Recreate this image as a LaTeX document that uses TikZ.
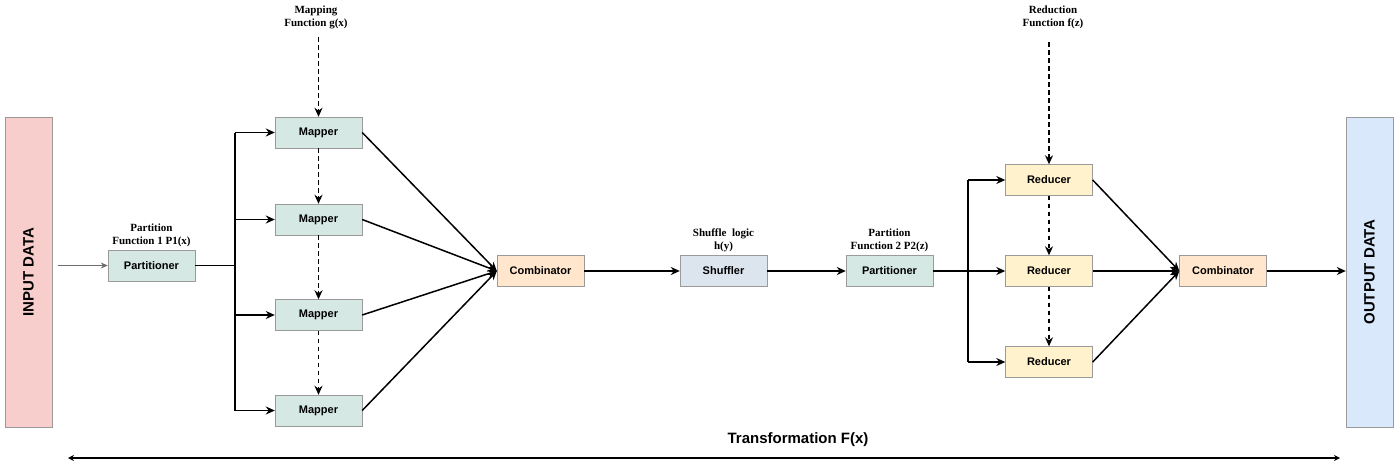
\documentclass[tikz,border=0pt]{standalone}
\usepackage{fontspec}
\setmainfont{Liberation Sans}
\newfontfamily\fnfont{Liberation Serif}
\usetikzlibrary{arrows.meta}

\definecolor{inpink}{HTML}{F8CECC}
\definecolor{outblue}{HTML}{DAE8FC}
\definecolor{tealbox}{HTML}{D5E8E4}
\definecolor{peachbox}{HTML}{FFE6CC}
\definecolor{yellowbox}{HTML}{FFF2CC}
\definecolor{shufbox}{HTML}{DCE4EE}
\definecolor{edgegray}{HTML}{9A9A9A}

\tikzset{
  box/.style={draw=edgegray, minimum width=87pt, minimum height=31pt, inner sep=0pt,
    font=\bfseries\fontsize{11}{13}\selectfont},
  databar/.style={draw=edgegray, minimum width=47pt, minimum height=310pt, inner sep=0pt},
  barlabel/.style={rotate=90, font=\bfseries\fontsize{15}{17}\selectfont},
  fnlabel/.style={align=center, font=\fnfont\bfseries\fontsize{11}{13}\selectfont},
  flow/.style={draw, line width=1.5pt, -{Stealth[length=9pt,width=8pt]}},
  dashflow/.style={flow, dash pattern=on 4.5pt off 3.5pt},
}

\begin{document}
\begin{tikzpicture}[x=1pt,y=-1pt]
        \useasboundingbox (0,0) rectangle (1400,466);

        % data bars
        \node[databar, fill=inpink, label={[barlabel]center:INPUT DATA}] (input) at (28.5,272) {};
        \node[databar, fill=outblue, label={[barlabel]center:OUTPUT DATA}] (output) at (1369.5,272) {};

        \begin{scope}[every node/.style={box}]
          \node[fill=tealbox] (part1) at (151.5,265.5) {Partitioner};
          \node[fill=tealbox] (mapA)  at (318.5,132.5) {Mapper};
          \node[fill=tealbox] (mapB)  at (318.5,219.5) {Mapper};
          \node[fill=tealbox] (mapC)  at (318.5,315)   {Mapper};
          \node[fill=tealbox] (mapD)  at (318.5,410.5) {Mapper};
          \node[fill=peachbox] (comb1) at (540.5,271) {Combinator};
          \node[fill=shufbox] (shuf)  at (723.5,271) {Shuffler};
          \node[fill=tealbox] (part2) at (889.5,271) {Partitioner};
          \node[fill=yellowbox] (redA) at (1049,180) {Reducer};
          \node[fill=yellowbox] (redB) at (1049,271) {Reducer};
          \node[fill=yellowbox] (redC) at (1049,362) {Reducer};
          \node[fill=peachbox] (comb2) at (1223,271) {Combinator};
        \end{scope}

        \begin{scope}[every node/.style={fnlabel}]
          \node (mapfn)  at (316,17)    {Mapping\\Function g(x)};
          \node (redfn)  at (1053,17)   {Reduction\\Function f(z)};
          \node (part1fn) at (151.5,235) {Partition\\Function 1 P1(x)};
          \node (shuffn) at (723.5,240) {Shuffle\ \ logic\\h(y)};
          \node (part2fn) at (889.5,240) {Partition\\Function 2 P2(z)};
        \end{scope}

        \coordinate (split1) at (235,265.5);
        \coordinate (split2) at (968,271);

        % input side
        \draw[edgegray!70!black, line width=0.9pt, -{Stealth[length=7pt,width=6pt]}]
          (input.east |- part1.west) ++(6,0) -- (part1.west);
        \draw[line width=1.5pt] (part1.east) -- (split1);
        \draw[line width=1.5pt] (split1 |- mapA) -- (split1 |- mapD);

        \begin{scope}[every edge/.style={flow}]
          \path (split1 |- mapA) edge (mapA.west);
          \path (split1 |- mapB) edge (mapB.west);
          \path (split1 |- mapC) edge (mapC.west);
          \path (split1 |- mapD) edge (mapD.west);
          \path (mapA.east) edge (comb1.west);
          \path (mapB.east) edge (comb1.west);
          \path (mapC.east) edge (comb1.west);
          \path (mapD.east) edge (comb1.west);
          \path (comb1) edge (shuf);
          \path (shuf) edge (part2);
          \path (split2 |- redA) edge (redA.west);
          \path (split2 |- redB) edge (redB.west);
          \path (split2 |- redC) edge (redC.west);
          \path (redA.east) edge (comb2.west);
          \path (redB.east) edge (comb2.west);
          \path (redC.east) edge (comb2.west);
          \path (comb2.east) edge (comb2 -| output.west);
        \end{scope}
        \draw[line width=1.5pt] (part2.east) -- (split2);
        \draw[line width=1.5pt] (split2 |- redA) -- (split2 |- redC);

        \begin{scope}[every edge/.style={dashflow}]
          \path (mapA.north |- mapfn.south) ++(0,5) edge (mapA.north);
          \path (mapA) edge (mapB);
          \path (mapB) edge (mapC);
          \path (mapC) edge (mapD);
          \path (redA.north |- redfn.south) ++(0,10) edge (redA.north);
          \path (redA) edge (redB);
          \path (redB) edge (redC);
        \end{scope}

        % transformation span
        \coordinate (tleft) at (68,458);
        \coordinate (tright) at (1340,458);
        \node[font=\bfseries\fontsize{15}{17}\selectfont] (trans) at (798,440) {Transformation F(x)};
        \draw[line width=1.5pt, {Stealth[length=6pt,width=6pt]}-{Stealth[length=6pt,width=6pt]}] (tleft) -- (tright);

      \end{tikzpicture}
\end{document}
